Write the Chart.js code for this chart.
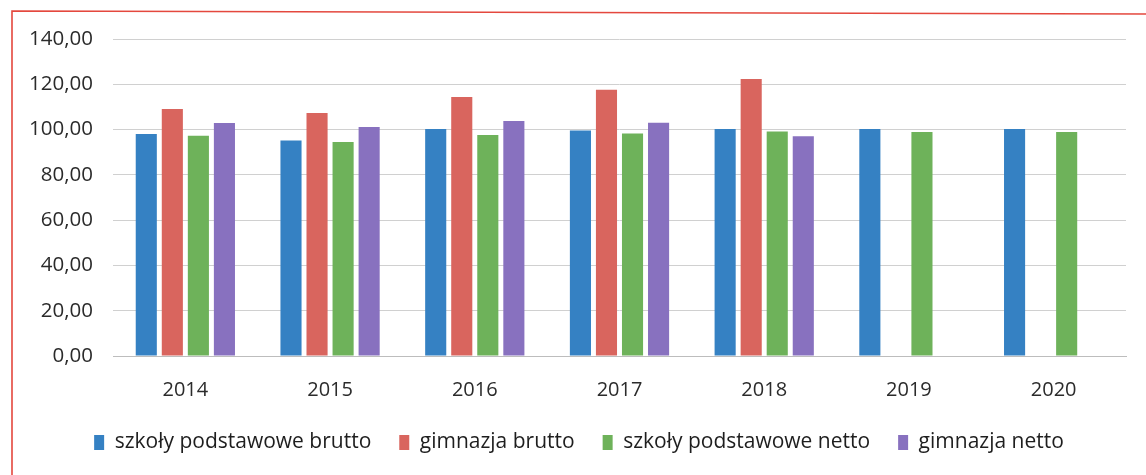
<!DOCTYPE html>
<html>
<head>
<meta charset="utf-8">
<script src="https://cdn.jsdelivr.net/npm/chart.js@4.4.1/dist/chart.umd.min.js"></script>
<style>
    html, body { margin: 0; padding: 0; background: #fff; }
    #wrap { width: 1146px; height: 475px; }
</style>
</head>
<body>
<div id="wrap"><canvas id="chart"></canvas></div>
<script>
    "use strict";

    // Data
    var years = ["2014", "2015", "2016", "2017", "2018", "2019", "2020"];
    var spBrutto = [98.0, 95.2, 100.2, 99.6, 100.2, 100.2, 100.2];
    var gimBrutto = [109.1, 107.3, 114.4, 117.6, 122.3, null, null];
    var spNetto = [97.3, 94.5, 97.6, 98.3, 99.1, 98.9, 98.9];
    var gimNetto = [102.9, 101.1, 103.8, 103.0, 97.0, null, null];
    var yTicks = [0, 20, 40, 60, 80, 100, 120, 140];

    Chart.defaults.font.family = "'Open Sans', 'Noto Sans', sans-serif";
    Chart.defaults.color = "#2b2b2b";

    // red frame around the whole chart (as in the scan) + nudge legend
    var framePlugin = {
        id: "frame",
        afterLayout: function (chart) {
            var lg = chart.legend;
            lg.left += 10;
            lg.right += 10;
            lg.top -= 12;
            lg.bottom -= 12;
        },
        afterDraw: function (chart) {
            var c = chart.ctx;
            c.save();
            c.strokeStyle = "#e4483e";
            c.lineWidth = 1.6;
            c.beginPath();
            c.moveTo(12, 480);
            c.lineTo(12, 11);
            c.lineTo(1150, 14);
            c.stroke();
            c.restore();
        }
    };

    var ctx = document.getElementById("chart").getContext("2d");
    var myChart = new Chart(ctx, {
        type: "bar",
        data: {
            labels: years,
            datasets: [{
                label: "szkoły podstawowe brutto",
                data: spBrutto,
                backgroundColor: "#3581c3"
            },
            {
                label: "gimnazja brutto",
                data: gimBrutto,
                backgroundColor: "#d9655e"
            },
            {
                label: "szkoły podstawowe netto",
                data: spNetto,
                backgroundColor: "#6eb25a"
            },
            {
                label: "gimnazja netto",
                data: gimNetto,
                backgroundColor: "#8871bf"
            }
            ]
        },
        options: {
            responsive: true,
            maintainAspectRatio: false,
            animation: false,
            categoryPercentage: 0.72,
            barPercentage: 0.81,
            layout: { padding: { left: 12, right: 20, top: 39, bottom: 0 } },
            plugins: {
                tooltip: { enabled: false },
                legend: {
                    position: "bottom",
                    labels: {
                        boxWidth: 10,
                        boxHeight: 15,
                        padding: 28,
                        font: { size: 21, lineHeight: 1 },
                        color: "#1e1e1e"
                    }
                }
            },
            scales: {
                x: {
                    grid: { display: false },
                    border: { display: true, color: "#bdbdbd" },
                    ticks: { font: { size: 20 }, padding: 14, color: "#2b2b2b" }
                },
                y: {
                    min: 0,
                    max: 140,
                    afterBuildTicks: function (scale) {
                        scale.ticks = yTicks.map(function (v) { return { value: v }; });
                    },
                    afterFit: function (scale) {
                        scale.width = 101;
                    },
                    border: { display: false },
                    grid: { color: "#d0d0d0", lineWidth: 1, drawTicks: false },
                    ticks: {
                        font: { size: 20.5 },
                        padding: 20,
                        color: "#2b2b2b",
                        callback: function (v) {
                            return v.toFixed(2).replace(".", ",");
                        }
                    }
                }
            }
        },
        plugins: [framePlugin]
    });
</script>
</body>
</html>
